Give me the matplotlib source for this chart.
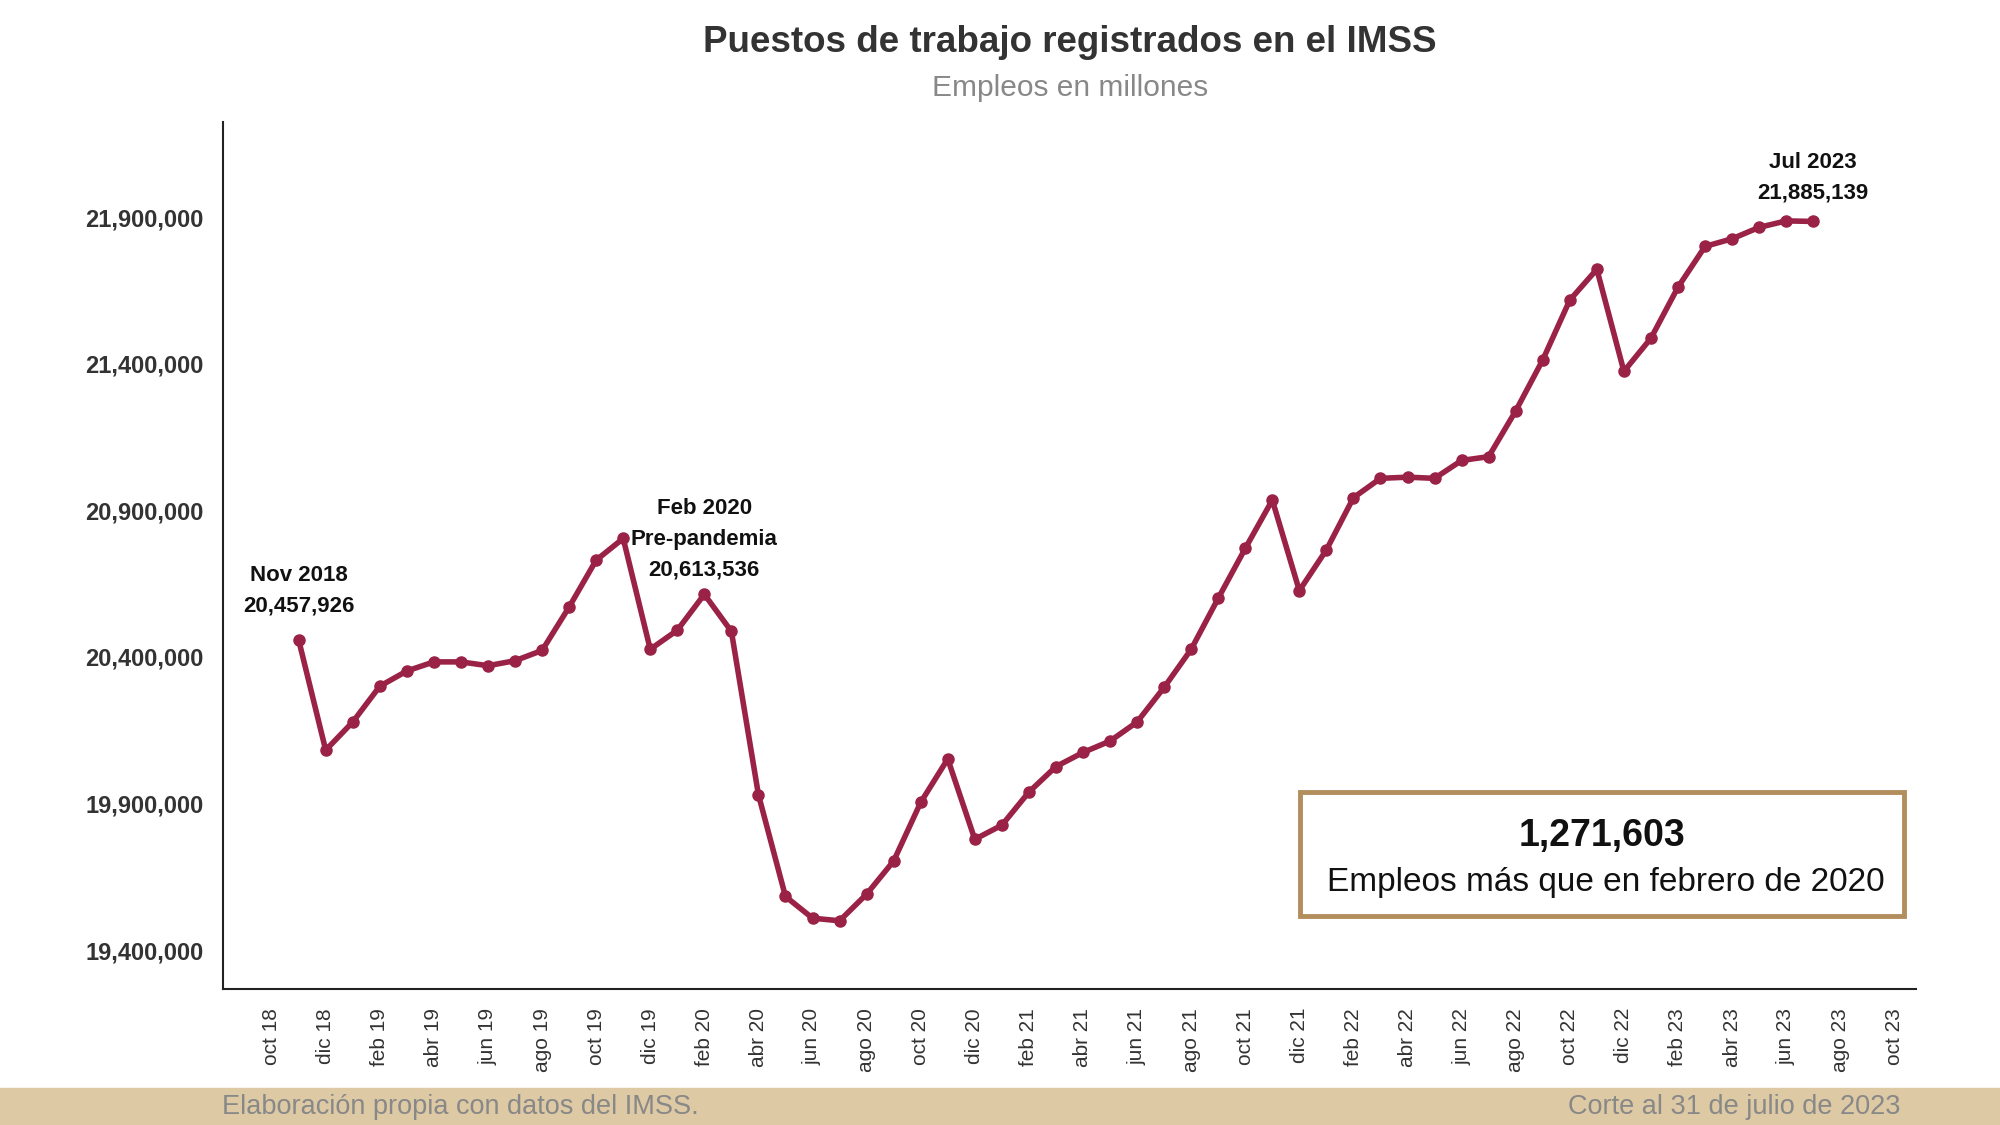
import matplotlib.pyplot as plt
from matplotlib.patches import Rectangle

# monthly values, Nov 2018 .. Jul 2023
empleos = [20457926, 20082000, 20178000, 20300000, 20352000, 20383000, 20383000, 20370000,
           20387000, 20422000, 20570000, 20730000, 20804000, 20426000, 20491000, 20613536,
           20487000, 19930000, 19583000, 19509000, 19500000, 19591000, 19704000, 19904000,
           20052000, 19778000, 19826000, 19939000, 20026000, 20074000, 20113000, 20178000,
           20296000, 20426000, 20600000, 20770000, 20935000, 20626000, 20765000, 20943000,
           21009000, 21013000, 21009000, 21070000, 21083000, 21239000, 21413000, 21617000,
           21722000, 21374000, 21487000, 21661000, 21800000, 21826000, 21865000, 21887000,
           21885139]
meses = list(range(1, len(empleos) + 1))  # months after Oct 2018
tick_labels = ['oct 18', 'dic 18', 'feb 19', 'abr 19', 'jun 19', 'ago 19', 'oct 19', 'dic 19',
               'feb 20', 'abr 20', 'jun 20', 'ago 20', 'oct 20', 'dic 20', 'feb 21', 'abr 21',
               'jun 21', 'ago 21', 'oct 21', 'dic 21', 'feb 22', 'abr 22', 'jun 22', 'ago 22',
               'oct 22', 'dic 22', 'feb 23', 'abr 23', 'jun 23', 'ago 23', 'oct 23']
yticks = [19400000, 19900000, 20400000, 20900000, 21400000, 21900000]

color = '#9B2247'
fig = plt.figure(figsize=(20, 11.25), dpi=100)
fig.patch.set_facecolor('white')
ax = fig.add_axes([0.1116, 0.1213, 0.8464, 0.7707])
ax.plot(meses, empleos, color=color, lw=4, marker='o', ms=8)
ax.set_xlim(-1.79, 60.8)
ax.set_ylim(19269000, 22226000)
ax.set_xticks(range(0, 61, 2))
ax.set_xticklabels(tick_labels, rotation=90, fontsize=15, color='#333333', family='Liberation Sans')
ax.set_yticks(yticks)
ax.set_yticklabels([f'{v:,}' for v in yticks], fontsize=17, fontweight='bold', color='#333333',
                   family='Liberation Sans')
ax.tick_params(length=0, pad=14)
for s in ['top', 'right']:
    ax.spines[s].set_visible(False)
for s in ['left', 'bottom']:
    ax.spines[s].set_color('#222222')
    ax.spines[s].set_linewidth(1.5)
ax.set_facecolor('none')

kw = dict(ha='center', fontsize=16, fontweight='bold', family='Liberation Sans', color='#111111',
          linespacing=1.6)
ax.annotate('Nov 2018\n20,457,926', (1, empleos[0]), xytext=(0, 17), textcoords='offset points', va='bottom', **kw)
ax.annotate('Feb 2020\nPre-pandemia\n20,613,536', (16, empleos[15]), xytext=(0, 10), textcoords='offset points', va='bottom', **kw)
ax.annotate('Jul 2023\n21,885,139', (57, empleos[-1]), xytext=(0, 13), textcoords='offset points', va='bottom', **kw)

fig.text(0.535, 0.962, 'Puestos de trabajo registrados en el IMSS', ha='center', va='center',
         fontsize=26.5, fontweight='bold', color='#333333', family='Liberation Sans')
fig.text(0.535, 0.922, 'Empleos en millones', ha='center', va='center', fontsize=21.5,
         color='#888888', family='Liberation Sans')

fig.add_artist(Rectangle((0.650, 0.186), 0.302, 0.110, transform=fig.transFigure,
                         fill=False, edgecolor='#B38E5D', lw=3.5))
fig.text(0.801, 0.257, '1,271,603', ha='center', va='center', fontsize=27, fontweight='bold',
         color='#111111', family='Liberation Sans')
fig.text(0.803, 0.216, 'Empleos más que en febrero de 2020', ha='center', va='center',
         fontsize=24, color='#111111', family='Liberation Sans')

fig.add_artist(Rectangle((0, 0), 1, 0.033, transform=fig.transFigure, color='#DDC9A3', zorder=0))
fig.text(0.111, 0.016, 'Elaboración propia con datos del IMSS.', ha='left', va='center',
         fontsize=19.5, color='#888888', family='Liberation Sans')
fig.text(0.950, 0.016, 'Corte al 31 de julio de 2023', ha='right', va='center',
         fontsize=19.5, color='#888888', family='Liberation Sans')

fig.savefig('out.png', dpi=100)
